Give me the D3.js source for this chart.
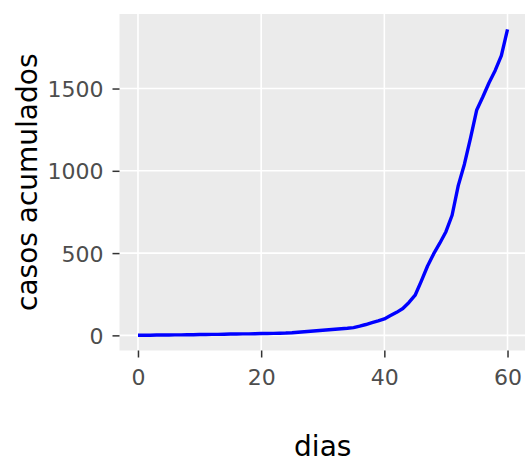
<!DOCTYPE html>
<html>
<head>
<meta charset="utf-8">
<script src="https://cdn.jsdelivr.net/npm/d3@7"></script>
<style>
  html, body { margin: 0; padding: 0; background: #fff; }
  svg { display: block; }
</style>
</head>
<body>
<svg id="chart" width="525" height="462"></svg>
<script>
// Data
const dias = d3.range(0, 61);
const casos = [
  1, 1, 1, 2, 2, 2, 3, 3, 4, 4,
  5, 5, 6, 6, 7, 8, 8, 9, 9, 10,
  11, 11, 12, 13, 14, 16, 19, 22, 25, 28,
  31, 34, 37, 40, 43, 47, 56, 66, 77, 88,
  100, 120, 140, 163, 200, 244, 330, 420, 495, 560,
  630, 730, 910, 1040, 1200, 1370, 1450, 1535, 1610, 1700,
  1860
];
const xTicks = [0, 20, 40, 60];
const yTicks = [0, 500, 1000, 1500];
const xLabel = "dias";
const yLabel = "casos acumulados";

const svg = d3.select("#chart");
const panel = { left: 119.5, right: 526, top: 14, bottom: 350.5 };

const xExt = d3.extent(dias), xPad = (xExt[1] - xExt[0]) * 0.05;
const yExt = d3.extent(casos), yPad = (yExt[1] - yExt[0]) * 0.05;
const x = d3.scaleLinear().domain([xExt[0] - xPad, xExt[1] + xPad]).range([panel.left, panel.right]);
const y = d3.scaleLinear().domain([yExt[0] - yPad, yExt[1] + yPad]).range([panel.bottom, panel.top]);

// panel background
svg.append("rect")
  .attr("x", panel.left).attr("y", panel.top)
  .attr("width", panel.right - panel.left).attr("height", panel.bottom - panel.top)
  .attr("fill", "#EBEBEB");

// grid lines
const g = svg.append("g");
g.selectAll(".gx").data(xTicks).join("line")
  .attr("x1", d => x(d)).attr("x2", d => x(d))
  .attr("y1", panel.top).attr("y2", panel.bottom)
  .attr("stroke", "#fff").attr("stroke-width", 1.6);
g.selectAll(".gy").data(yTicks).join("line")
  .attr("y1", d => y(d)).attr("y2", d => y(d))
  .attr("x1", panel.left).attr("x2", panel.right)
  .attr("stroke", "#fff").attr("stroke-width", 1.6);

// line
const line = d3.line().x((d, i) => x(dias[i])).y(d => y(d));
svg.append("path").datum(casos)
  .attr("d", line)
  .attr("fill", "none")
  .attr("stroke", "#0000FF")
  .attr("stroke-width", 3.4)
  .attr("stroke-linejoin", "round")
  .attr("stroke-linecap", "butt");

// axes
const fmt = d3.format("d");
const xAxis = d3.axisBottom(x).tickValues(xTicks).tickFormat(fmt).tickSize(7).tickPadding(12);
const yAxis = d3.axisLeft(y).tickValues(yTicks).tickFormat(fmt).tickSize(7).tickPadding(9);

const gx = svg.append("g").attr("transform", `translate(0,${panel.bottom})`).call(xAxis);
const gy = svg.append("g").attr("transform", `translate(${panel.left},0)`).call(yAxis);
[gx, gy].forEach(a => {
  a.select(".domain").remove();
  a.selectAll(".tick line").attr("stroke", "#333").attr("stroke-width", 1.5);
  a.selectAll(".tick text")
    .attr("fill", "#4D4D4D")
    .style("font-family", "'DejaVu Sans', Verdana, sans-serif")
    .style("font-size", "22px");
});
gy.selectAll(".tick text").attr("dy", "0.36em");

// axis titles
svg.append("text")
  .attr("x", (panel.left + panel.right) / 2).attr("y", 456)
  .attr("text-anchor", "middle")
  .style("font-family", "'DejaVu Sans', Verdana, sans-serif")
  .style("font-size", "28px")
  .attr("fill", "#000")
  .text(xLabel);

svg.append("text")
  .attr("transform", `translate(37,${(panel.top + panel.bottom) / 2}) rotate(-90)`)
  .attr("text-anchor", "middle")
  .style("font-family", "'DejaVu Sans', Verdana, sans-serif")
  .style("font-size", "28px")
  .attr("fill", "#000")
  .text(yLabel);
</script>
</body>
</html>
